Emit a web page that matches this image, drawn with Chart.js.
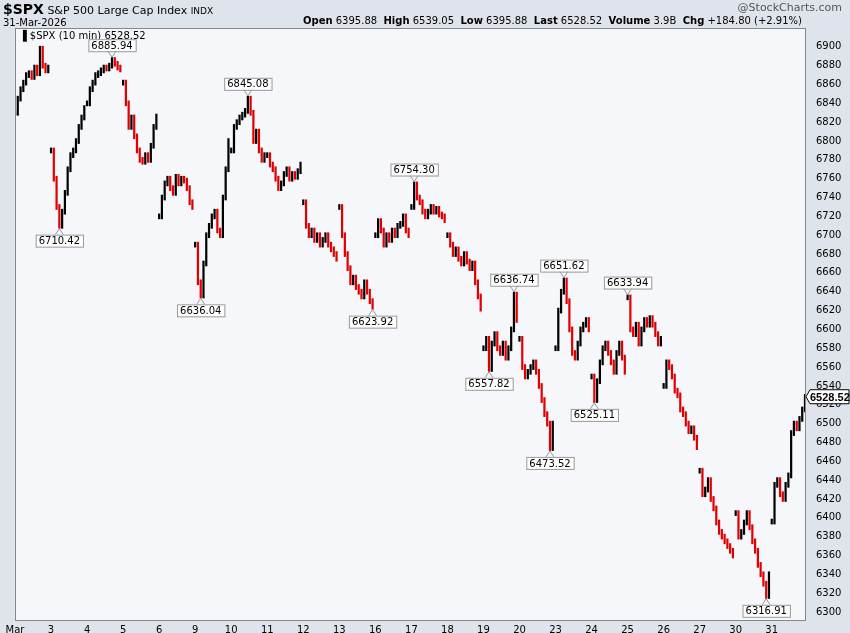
<!DOCTYPE html>
<html><head><meta charset="utf-8">
<script src="https://cdn.jsdelivr.net/npm/chart.js@4"></script>
<style>
  body { margin:0; background:#dfe4ec; font-family:"DejaVu Sans", sans-serif; overflow:hidden; }
  #wrap { position:relative; width:850px; height:633px; }
  canvas { display:block; }
  #hdr1 { position:absolute; left:3px; top:1px; font-size:11px; color:#000; }
  #hdr1 b { font-size:14px; }
  #hdr2 { position:absolute; left:3px; top:17px; font-size:10px; }
  #quote { position:absolute; right:48px; top:15px; font-size:10px; }
  #brand { position:absolute; right:8px; top:1px; font-size:11px; color:#555; }
</style></head>
<body><div id="wrap">
<div id="hdr1"><b>$SPX</b> S&amp;P 500 Large Cap Index <span style="font-size:9px">INDX</span></div>
<div id="hdr2">31-Mar-2026</div>
<div id="quote"><b>Open</b> 6395.88 &nbsp;<b>High</b> 6539.05 &nbsp;<b>Low</b> 6395.88 &nbsp;<b>Last</b> 6528.52 &nbsp;<b>Volume</b> 3.9B &nbsp;<b>Chg</b> +184.80 (+2.91%)</div>
<div id="brand">@StockCharts.com</div>
<canvas id="c" width="850" height="633"></canvas>
</div>
<script>
// trading days and 30-min closes (13 per session)
const dayLabels = ["Mar","3","4","5","6","9","10","11","12","13","16","17","18","19","20","23","24","25","26","27","30","31"];
const closesByDay = [
  [6830,6845,6855,6862,6870,6872,6868,6878,6872,6898,6880,6875,6878],
  [6790,6760,6730,6710,6725,6745,6770,6785,6790,6800,6815,6825,6835],
  [6840,6855,6862,6870,6872,6875,6878,6877,6880,6886,6882,6878,6876],
  [6862,6840,6815,6825,6805,6790,6780,6778,6785,6780,6795,6815,6826],
  [6720,6740,6755,6760,6750,6745,6762,6755,6760,6758,6750,6735,6730],
  [6690,6650,6636,6670,6700,6710,6720,6725,6705,6700,6740,6770,6800],
  [6790,6815,6820,6825,6828,6832,6845,6830,6800,6810,6790,6780,6785],
  [6785,6775,6770,6760,6750,6755,6765,6770,6760,6765,6762,6768,6775],
  [6735,6710,6700,6705,6695,6700,6690,6695,6700,6690,6685,6680,6675],
  [6730,6700,6680,6665,6650,6655,6645,6640,6635,6650,6640,6630,6624],
  [6700,6715,6705,6690,6700,6695,6705,6700,6710,6712,6720,6705,6700],
  [6730,6754,6740,6735,6725,6720,6725,6730,6725,6728,6722,6720,6716],
  [6700,6690,6680,6685,6675,6670,6680,6672,6665,6670,6650,6635,6622],
  [6580,6590,6558,6585,6595,6580,6575,6585,6570,6580,6600,6637,6610],
  [6590,6560,6550,6555,6560,6565,6555,6540,6525,6510,6500,6474,6500],
  [6580,6620,6640,6652,6630,6600,6575,6570,6585,6600,6605,6610,6600],
  [6550,6525,6545,6565,6580,6585,6575,6565,6555,6575,6585,6570,6555],
  [6634,6600,6595,6605,6585,6600,6610,6605,6612,6605,6595,6585,6590],
  [6540,6565,6560,6550,6535,6530,6515,6510,6500,6492,6495,6485,6475],
  [6450,6425,6430,6440,6420,6410,6395,6385,6380,6375,6370,6365,6360],
  [6405,6380,6385,6395,6405,6390,6375,6365,6350,6340,6330,6317,6340],
  [6396,6435,6440,6425,6420,6435,6445,6490,6500,6495,6505,6515,6528.52]
];
// labelled highs / lows: [day, slot, text, above?]
const markers = [
  [1,3,"6710.42",false],[2,9,"6885.94",true],[5,2,"6636.04",false],[6,6,"6845.08",true],
  [9,12,"6623.92",false],[11,1,"6754.30",true],[13,2,"6557.82",false],[13,11,"6636.74",true],
  [14,11,"6473.52",false],[15,3,"6651.62",true],[16,1,"6525.11",false],[17,0,"6633.94",true],
  [20,11,"6316.91",false]
];
const lastPrice = 6528.52;

const labels = [], bars = [], colors = [];
closesByDay.forEach((day, d) => {
  day.forEach((v, s) => {
    labels.push(s === 0 ? dayLabels[d] : "");
    const prev = s === 0 ? v : day[s - 1];
    const lo = Math.min(prev, v), hi = Math.max(prev, v);
    bars.push([lo - 3, hi + 3]);
    colors.push(v >= prev ? "#000" : "#e00000");
  });
});

const overlay = {
  id: "overlay",
  beforeDraw(ch) {
    const a = ch.chartArea, ctx = ch.ctx;
    ctx.save();
    ctx.fillStyle = "#f5f7fb";
    ctx.fillRect(a.left, a.top, a.right - a.left, a.bottom - a.top);
    ctx.restore();
  },
  afterDraw(ch) {
    const a = ch.chartArea, ctx = ch.ctx, x = ch.scales.x, y = ch.scales.y;
    ctx.save();
    ctx.strokeStyle = "#888"; ctx.lineWidth = 1;
    ctx.strokeRect(a.left + 0.5, a.top + 0.5, a.right - a.left, a.bottom - a.top);
    ctx.textBaseline = "middle";
    // legend
    ctx.textAlign = "left";
    ctx.font = "10px 'DejaVu Sans'";
    ctx.fillStyle = "#000"; ctx.fillText("\u2590 $SPX (10 min) 6528.52", a.left + 4, a.top + 8);
    ctx.font = "10px 'DejaVu Sans'"; ctx.textAlign = "center";
    markers.forEach(([d, s, t, above]) => {
      const i = d * 13 + s;
      const px = x.getPixelForValue(i);
      const py = y.getPixelForValue(above ? bars[i][1] : bars[i][0]);
      const w = ctx.measureText(t).width + 6, h = 12;
      const by = above ? py - 6 - h : py + 6;
      ctx.fillStyle = "#fff"; ctx.fillRect(px - w / 2, by, w, h);
      ctx.strokeStyle = "#999"; ctx.strokeRect(px - w / 2 + 0.5, by + 0.5, w, h);
      ctx.beginPath();
      if (above) { ctx.moveTo(px - 4, by + h); ctx.lineTo(px, py); ctx.lineTo(px + 4, by + h); }
      else { ctx.moveTo(px - 4, by); ctx.lineTo(px, py); ctx.lineTo(px + 4, by); }
      ctx.stroke();
      ctx.fillStyle = "#000"; ctx.fillText(t, px, by + h / 2 + 1);
    });
    // last price tag
    ctx.textAlign = "left";
    const ly = y.getPixelForValue(lastPrice);
    ctx.font = "bold 11px 'Liberation Sans'";
    ctx.fillStyle = "#fff";
    ctx.beginPath();
    ctx.moveTo(a.right + 1, ly); ctx.lineTo(a.right + 5, ly - 7); ctx.lineTo(849, ly - 7);
    ctx.lineTo(849, ly + 7); ctx.lineTo(a.right + 5, ly + 7); ctx.closePath();
    ctx.fill(); ctx.strokeStyle = "#000"; ctx.stroke();
    ctx.fillStyle = "#000"; ctx.fillText(lastPrice.toFixed(2), a.right + 5, ly + 1);
    ctx.restore();
  }
};

new Chart(document.getElementById("c"), {
  type: "bar",
  data: { labels, datasets: [{ data: bars, backgroundColor: colors, barPercentage: 1, categoryPercentage: 0.8 }] },
  options: {
    responsive: false, animation: false,
    layout: { padding: { top: 28, left: 15, right: 0, bottom: 0 } },
    plugins: { legend: { display: false }, tooltip: { enabled: false } },
    scales: {
      x: {
        offset: false,
        grid: { display: false },
        border: { display: false },
        ticks: { autoSkip: false, maxRotation: 0, padding: -4, color: "#000",
                 font: { size: 10, family: "DejaVu Sans" },
                 callback: (v, i) => labels[i] },
        afterFit: s => { s.height = 13; }
      },
      y: {
        position: "right", min: 6291.5, max: 6920,
        grid: { display: false }, border: { display: false },
        afterBuildTicks: s => {
          const t = [];
          for (let v = 6300; v <= 6900; v += 20) t.push({ value: v });
          s.ticks = t;
        },
        ticks: { color: "#000", padding: 3, font: { size: 10, family: "DejaVu Sans" },
                 callback: v => String(v) },
        afterFit: s => { s.width = 45; }
      }
    }
  },
  plugins: [overlay]
});
</script></body></html>
